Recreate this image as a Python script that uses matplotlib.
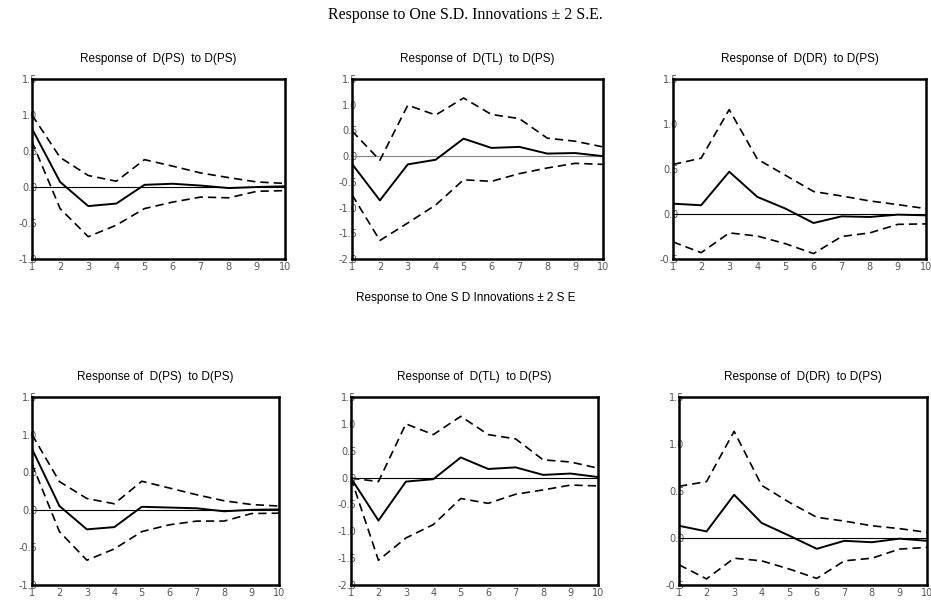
import numpy as np
import matplotlib
matplotlib.use("Agg")
import matplotlib.pyplot as plt

periods = np.arange(1, 11)

titles = ["Response of  D(PS)  to D(PS)",
          "Response of  D(TL)  to D(PS)",
          "Response of  D(DR)  to D(PS)"]

# top row (Word-pasted graphs)
ps_top = [0.81, 0.07, -0.265, -0.23, 0.03, 0.045, 0.02, -0.015, 0.0, 0.01]
ps_top_hi = [1.0, 0.41, 0.16, 0.08, 0.38, 0.29, 0.195, 0.13, 0.07, 0.05]
ps_top_lo = [0.63, -0.30, -0.69, -0.53, -0.30, -0.21, -0.14, -0.15, -0.06, -0.05]

tl_top = [-0.15, -0.86, -0.16, -0.07, 0.34, 0.16, 0.18, 0.05, 0.06, 0.0]
tl_top_hi = [0.49, -0.08, 0.99, 0.80, 1.13, 0.81, 0.73, 0.35, 0.29, 0.18]
tl_top_lo = [-0.75, -1.64, -1.30, -0.95, -0.46, -0.49, -0.34, -0.23, -0.14, -0.16]

dr_top = [0.115, 0.097, 0.47, 0.19, 0.06, -0.10, -0.026, -0.033, -0.007, -0.015]
dr_top_hi = [0.55, 0.62, 1.16, 0.61, 0.43, 0.25, 0.20, 0.145, 0.104, 0.06]
dr_top_lo = [-0.31, -0.43, -0.21, -0.245, -0.33, -0.44, -0.25, -0.21, -0.115, -0.11]

# bottom row
ps_bot = [0.81, 0.05, -0.26, -0.23, 0.04, 0.03, 0.02, -0.02, 0.0, 0.005]
ps_bot_hi = [1.0, 0.375, 0.15, 0.08, 0.38, 0.29, 0.20, 0.12, 0.07, 0.05]
ps_bot_lo = [0.61, -0.29, -0.67, -0.52, -0.29, -0.20, -0.15, -0.15, -0.05, -0.045]

tl_bot = [-0.01, -0.80, -0.075, -0.03, 0.375, 0.16, 0.19, 0.05, 0.075, 0.01]
tl_bot_hi = [-0.01, -0.075, 1.0, 0.80, 1.14, 0.80, 0.72, 0.33, 0.29, 0.175]
tl_bot_lo = [-0.01, -1.54, -1.125, -0.875, -0.39, -0.48, -0.31, -0.23, -0.14, -0.155]

dr_bot = [0.13, 0.07, 0.46, 0.16, 0.025, -0.115, -0.03, -0.045, -0.007, -0.03]
dr_bot_hi = [0.55, 0.60, 1.135, 0.56, 0.38, 0.22, 0.18, 0.13, 0.10, 0.06]
dr_bot_lo = [-0.285, -0.435, -0.215, -0.243, -0.33, -0.43, -0.243, -0.215, -0.118, -0.10]

ylims = [(-1.0, 1.5), (-2.0, 1.5), (-0.5, 1.5)]

W, H = 931, 602
fig = plt.figure(figsize=(W / 100, H / 100), dpi=100)

def px_axes(x0, y0, x1, y1):
    return fig.add_axes([x0 / W, 1 - y1 / H, (x1 - x0) / W, (y1 - y0) / H])

def draw_panel(ax, resp, hi, lo, ylim, title, zero_col="black"):
    ax.axhline(0, color=zero_col, lw=0.8)
    ax.plot(periods, resp, color="black", lw=1.4)
    ax.plot(periods, hi, color="black", lw=1.2, ls=(0, (5, 3)))
    ax.plot(periods, lo, color="black", lw=1.2, ls=(0, (5, 3)))
    ax.set_xlim(1, 10)
    ax.set_ylim(*ylim)
    ax.set_xticks(periods)
    yt = np.arange(ylim[0], ylim[1] + 0.01, 0.5)
    ax.set_yticks(yt)
    ax.set_yticklabels(["%.1f" % v for v in yt])
    ax.tick_params(length=0, labelsize=7, colors="#555555")
    ax.tick_params(axis="y", pad=-4)
    ax.tick_params(axis="x", pad=2)
    for s in ax.spines.values():
        s.set_linewidth(1.8)
    ax.set_title(title, fontsize=8.5, family="Liberation Sans", pad=12)

top_boxes = [(32, 79, 285, 259), (352, 79, 603, 259), (673, 79, 926, 259)]
bot_boxes = [(32, 397, 279, 585), (351, 397, 598, 585), (679, 397, 927, 585)]

top_data = [(ps_top, ps_top_hi, ps_top_lo),
            (tl_top, tl_top_hi, tl_top_lo),
            (dr_top, dr_top_hi, dr_top_lo)]
bot_data = [(ps_bot, ps_bot_hi, ps_bot_lo),
            (tl_bot, tl_bot_hi, tl_bot_lo),
            (dr_bot, dr_bot_hi, dr_bot_lo)]

for i in range(3):
    ax = px_axes(*top_boxes[i])
    draw_panel(ax, *top_data[i], ylims[i], titles[i],
               zero_col="#888888" if i == 1 else "black")
    ax = px_axes(*bot_boxes[i])
    draw_panel(ax, *bot_data[i], ylims[i], titles[i])

fig.text(0.5, 1 - 15 / H, "Response to One S.D. Innovations \u00b1 2 S.E.",
         ha="center", va="center", fontsize=11.5, family="Liberation Serif")
fig.text(0.5, 1 - 298 / H, "Response to One S D Innovations \u00b1 2 S E",
         ha="center", va="center", fontsize=8.5, family="Liberation Sans")

fig.savefig("out.png", dpi=100)
